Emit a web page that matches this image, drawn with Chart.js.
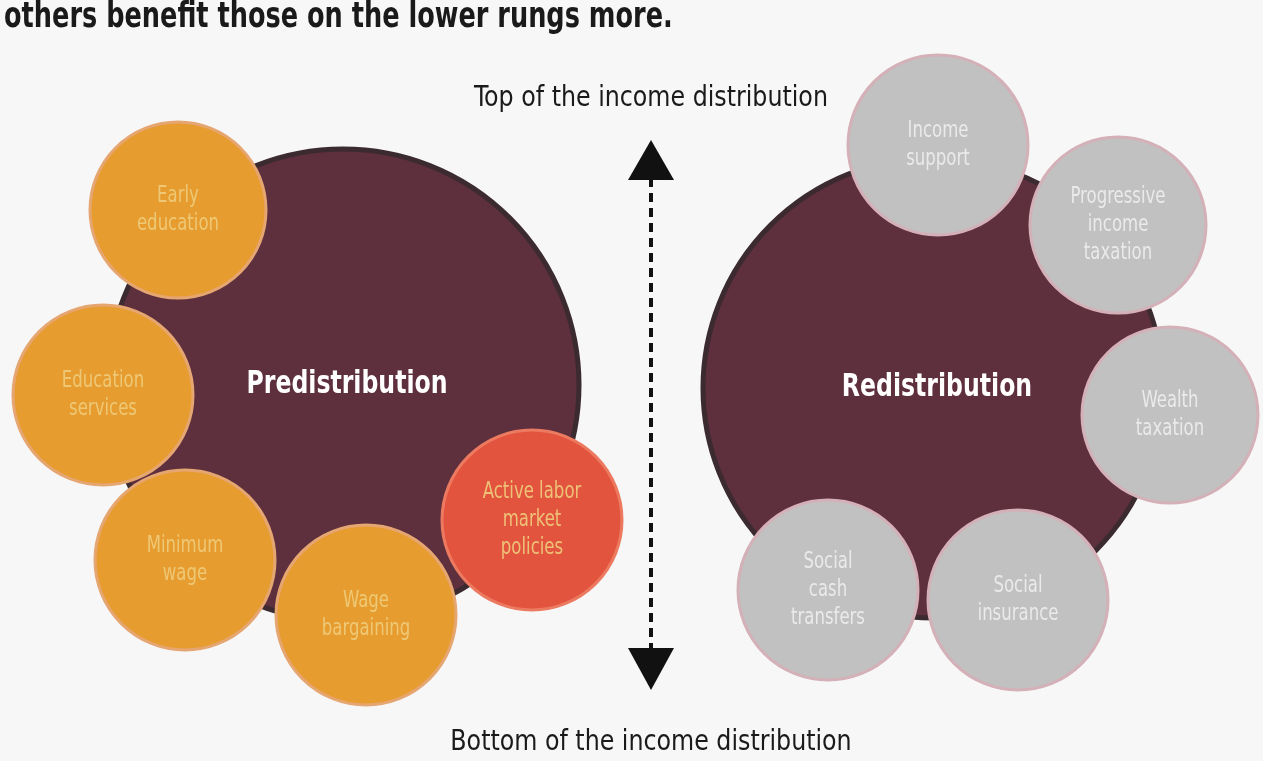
<!DOCTYPE html>
<html>
<head>
<meta charset="utf-8">
<script src="https://cdn.jsdelivr.net/npm/chart.js@4"></script>
<style>
  html, body { margin: 0; padding: 0; background: #f7f7f7; }
  #wrap { width: 1263px; height: 761px; position: relative; }
</style>
</head>
<body>
<div id="wrap"><canvas id="grafico" width="1263" height="761"></canvas></div>
<script>
// circulos principais
const gruposNomes = ["Predistribution", "Redistribution"];
const gruposX = [343, 933];
const gruposY = [385, 388];
const gruposR = [236, 230];

// politicas de predistribuicao
const preNomes = ["Early\neducation", "Education\nservices", "Minimum\nwage", "Wage\nbargaining", "Active labor\nmarket\npolicies"];
const preX = [178, 103, 185, 366, 532];
const preY = [210, 395, 560, 615, 520];
const preR = [88, 90, 90, 90, 90];

// politicas de redistribuicao
const redNomes = ["Income\nsupport", "Progressive\nincome\ntaxation", "Wealth\ntaxation", "Social\ncash\ntransfers", "Social\ninsurance"];
const redX = [938, 1118, 1170, 828, 1018];
const redY = [145, 225, 415, 590, 600];
const redR = [90, 88, 88, 90, 90];

const tituloTopo = "others benefit those on the lower rungs more.";
const textoCima = "Top of the income distribution";
const textoBaixo = "Bottom of the income distribution";

const fonte = "'DejaVu Sans Condensed', 'Liberation Sans Narrow', 'Roboto', sans-serif";

function pontos(xs, ys, rs) {
    return xs.map((x, i) => ({ x: x, y: ys[i], r: rs[i] }));
}

// texto estreito, parecido com a fonte condensada do original
function textoEstreito(ctx, texto, x, y, escala) {
    ctx.save();
    ctx.translate(x, y);
    ctx.scale(escala, 1);
    ctx.fillText(texto, 0, 0);
    ctx.restore();
}

const rotulos = {
    id: 'rotulos',
    afterDatasetsDraw(chart) {
        const ctx = chart.ctx;
        const sx = chart.scales.x;
        const sy = chart.scales.y;
        ctx.save();
        ctx.textAlign = 'center';
        ctx.textBaseline = 'middle';

        // nomes dos grupos
        const metaG = chart.getDatasetMeta(2);
        ctx.fillStyle = '#ffffff';
        ctx.font = "bold 32px " + fonte;
        metaG.data.forEach((p, i) => {
            textoEstreito(ctx, gruposNomes[i], p.x + 4, p.y, 0.82);
        });

        // textos nas bolhas
        function escrever(meta, nomes, cor) {
            ctx.fillStyle = cor;
            ctx.font = "23px " + fonte;
            meta.data.forEach((p, i) => {
                const linhas = nomes[i].split("\n");
                const alt = 28;
                linhas.forEach((l, k) => {
                    textoEstreito(ctx, l, p.x, p.y + (k - (linhas.length - 1) / 2) * alt, 0.8);
                });
            });
        }
        escrever(chart.getDatasetMeta(0), preNomes, 'rgba(240,205,125,0.9)');
        escrever(chart.getDatasetMeta(1), redNomes, 'rgba(238,238,238,0.9)');

        // seta tracejada
        const ax = sx.getPixelForValue(651);
        const y1 = sy.getPixelForValue(140);
        const y2 = sy.getPixelForValue(690);
        ctx.fillStyle = '#111111';
        ctx.strokeStyle = '#111111';
        ctx.lineWidth = 4;
        ctx.setLineDash([9, 6]);
        ctx.beginPath();
        ctx.moveTo(ax, y1 + 38);
        ctx.lineTo(ax, y2 - 38);
        ctx.stroke();
        ctx.setLineDash([]);
        ctx.beginPath();
        ctx.moveTo(ax, y1);
        ctx.lineTo(ax - 23, y1 + 40);
        ctx.lineTo(ax + 23, y1 + 40);
        ctx.closePath();
        ctx.fill();
        ctx.beginPath();
        ctx.moveTo(ax, y2);
        ctx.lineTo(ax - 23, y2 - 42);
        ctx.lineTo(ax + 23, y2 - 42);
        ctx.closePath();
        ctx.fill();

        // textos de cima e de baixo
        ctx.fillStyle = '#1a1a1a';
        ctx.font = "29px " + fonte;
        textoEstreito(ctx, textoCima, ax, sy.getPixelForValue(98), 0.91);
        textoEstreito(ctx, textoBaixo, ax, sy.getPixelForValue(742), 0.91);

        // titulo cortado no topo
        ctx.textAlign = 'left';
        ctx.textBaseline = 'alphabetic';
        ctx.font = "bold 36px " + fonte;
        textoEstreito(ctx, tituloTopo, 4, sy.getPixelForValue(27), 0.79);
        ctx.restore();
    }
};

const ctx = document.getElementById('grafico').getContext('2d');
new Chart(ctx, {
    type: 'bubble',
    data: {
        datasets: [
            {
                label: 'Predistribution policies',
                data: pontos(preX, preY, preR),
                backgroundColor: ['#e69c2f', '#e69c2f', '#e69c2f', '#e69c2f', '#e3543f'],
                borderColor: ['#e6a672', '#e6a672', '#e6a672', '#e6a672', '#ec7a60'],
                borderWidth: 3,
                order: 1,
                clip: false
            },
            {
                label: 'Redistribution policies',
                data: pontos(redX, redY, redR),
                backgroundColor: '#c1c1c1',
                borderColor: '#d4b0b8',
                borderWidth: 3,
                order: 1,
                clip: false
            },
            {
                label: 'Groups',
                data: pontos(gruposX, gruposY, gruposR),
                backgroundColor: '#5e2f3d',
                borderColor: '#3b2a2f',
                borderWidth: 5,
                order: 2,
                clip: false
            }
        ]
    },
    options: {
        responsive: false,
        animation: false,
        layout: { padding: 0, autoPadding: false },
        scales: {
            x: { type: 'linear', min: 0, max: 1263, display: false },
            y: { type: 'linear', min: 0, max: 761, reverse: true, display: false }
        },
        plugins: {
            legend: { display: false },
            tooltip: { enabled: false }
        },
        elements: { point: { hoverRadius: 0 } }
    },
    plugins: [rotulos]
});
</script>
</body>
</html>
